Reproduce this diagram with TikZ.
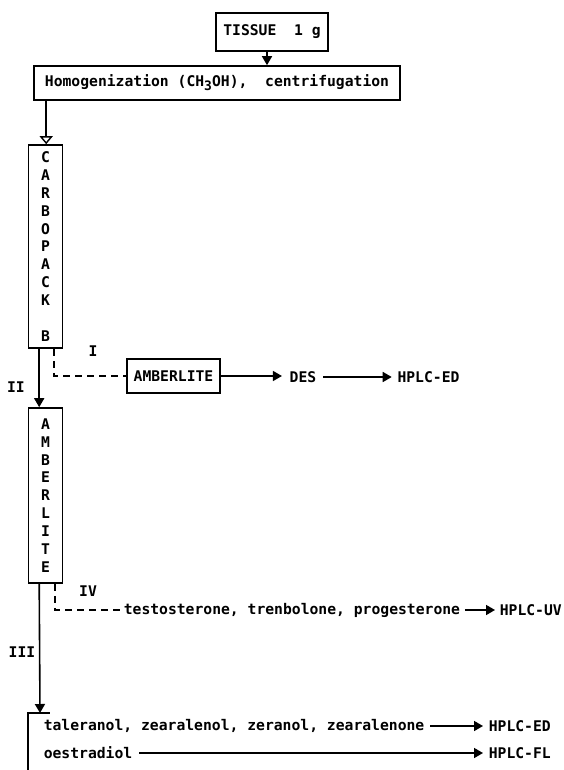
\documentclass[tikz,border=0pt]{standalone}
\usepackage{fontspec}
\usetikzlibrary{arrows.meta}
\newfontfamily\flowfont{DejaVu Sans Mono}
\newcommand{\lowsub}[1]{\raisebox{-4pt}{\fontsize{13}{13}\selectfont #1}}
\begin{document}
\begin{tikzpicture}[x=1pt,y=-1pt,
  line width=1.6pt,
  txt/.style={font={\flowfont\bfseries\fontsize{14.7}{17.9}\selectfont},inner sep=0pt},
  box/.style={txt,draw,rectangle,inner sep=0pt},
  column/.style={box,align=center,minimum width=34pt},
  lbl/.style={txt,anchor=center},
  arr/.style={-{Triangle[length=9pt,width=10pt]}},
  openarr/.style={-{Triangle[open,length=8pt,width=13pt,line width=1.4pt]}},
  dashline/.style={dash pattern=on 7pt off 5pt}
]
\useasboundingbox (0,0) rectangle (564,770);

% boxes
\node[box,minimum width=112pt,minimum height=38pt] (tissue) at (272,32) {TISSUE\ \ 1 g};
\node[box,minimum width=366pt,minimum height=34pt] (homog) at (217,83)
  {Homogenization (CH\lowsub{3}OH),\ \ centrifugation};
\node[column,minimum height=203pt] (carbo) at (45.5,246.5)
  {C\\A\\R\\B\\O\\P\\A\\C\\K\\[17.9pt]B};
\node[box,minimum width=93pt,minimum height=34pt] (ambbox) at (173.5,376) {AMBERLITE};
\node[column,minimum height=175pt] (ambcol) at (45.5,495.5)
  {A\\M\\B\\E\\R\\L\\I\\T\\E};

% plain labels
\node[lbl] (des) at (303,377) {DES};
\node[lbl] (edone) at (428.5,377) {HPLC-ED};
\node[lbl] (rI) at (93,351) {I};
\node[lbl] (rII) at (16,387) {II};
\node[lbl] (rIV) at (88,591) {IV};
\node[lbl] (rIII) at (22,652) {III};
\node[txt,anchor=west] (testo) at (123,610) {testosterone, trenbolone, progesterone};
\node[txt,anchor=west] (uv) at (499,610) {HPLC-UV};
\node[txt,anchor=west] (tal) at (43,726) {taleranol, zearalenol, zeranol, zearalenone};
\node[txt,anchor=west] (edtwo) at (488,726) {HPLC-ED};
\node[txt,anchor=west] (oes) at (43,753) {oestradiol};
\node[txt,anchor=west] (fl) at (488,753) {HPLC-FL};

% bracket collecting fraction III
\coordinate (brk) at (28,713);
\coordinate (brkend) at (28,775);
\draw (brkend) -- (brk) -- ([xshift=22pt]brk);

% connectors
\draw[arr] ([xshift=-5pt]tissue.south) -- ([xshift=-5pt]tissue.south |- homog.north);
\draw[openarr] ([xshift=13pt]homog.south west) -- ([xshift=18.5pt]carbo.north west);
\draw[arr] ([xshift=11.5pt]carbo.south west) -- ([xshift=11.5pt]ambcol.north west);
\draw[dashline] ([xshift=26.5pt]carbo.south west) |- (ambbox.west);
\draw[arr] (ambbox.east) -- ([xshift=-7pt]ambbox.east -| des.west);
\draw[arr] ([xshift=6pt]des.east) -- ([xshift=-5pt]edone.west);
\draw[arr] ([xshift=11.5pt]ambcol.south west) -- ([xshift=12pt]brk);
\draw[dashline] ([xshift=27.5pt]ambcol.south west) |- ([xshift=-1pt]testo.west);
\draw[arr] ([xshift=4pt]testo.east) -- ([xshift=-4pt]uv.west);
\draw[arr] ([xshift=5pt]tal.east) -- ([xshift=-5pt]edtwo.west);
\draw[arr] ([xshift=6pt]oes.east) -- ([xshift=-5pt]fl.west);
\end{tikzpicture}
\end{document}
